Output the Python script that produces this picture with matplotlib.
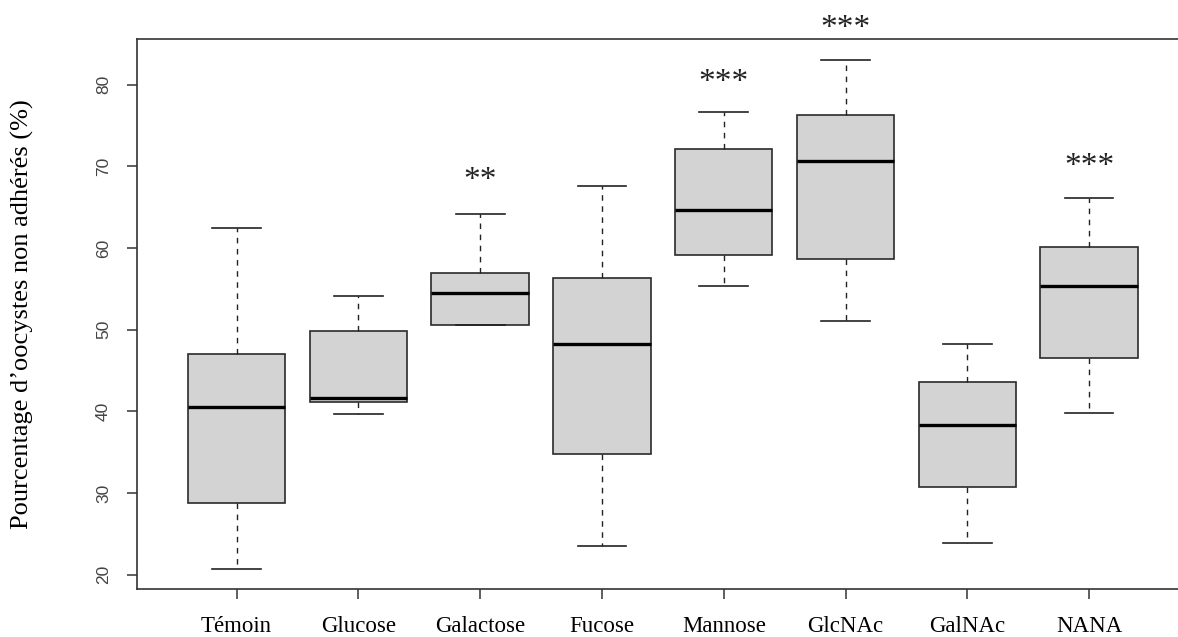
import matplotlib
matplotlib.use("Agg")
import matplotlib.pyplot as plt

categories = ["Témoin", "Glucose", "Galactose", "Fucose", "Mannose", "GlcNAc", "GalNAc", "NANA"]
whisker_low = [20.7, 39.7, 50.6, 23.5, 55.4, 51.1, 23.9, 39.8]
q1 = [28.8, 41.1, 50.6, 34.8, 59.2, 58.7, 30.8, 46.6]
median = [40.5, 41.7, 54.5, 48.3, 64.6, 70.6, 38.3, 55.3]
q3 = [47.0, 49.9, 56.9, 56.3, 72.1, 76.3, 43.6, 60.1]
whisker_high = [62.4, 54.1, 64.2, 67.6, 76.6, 83.0, 48.2, 66.1]
signif = ["", "", "**", "", "***", "***", "", "***"]
signif_y = [None, None, 68.9, None, 80.9, 87.6, None, 70.7]

W, H = 1178, 637
fig = plt.figure(figsize=(W / 100, H / 100), dpi=100)
left, right, top, bottom = 136.7, 1189.0, 39.0, 589.0
ax = fig.add_axes([left / W, 1 - bottom / H, (right - left) / W, (bottom - top) / H])

stats = []
for i, c in enumerate(categories):
    stats.append(dict(label=c, whislo=whisker_low[i], q1=q1[i], med=median[i],
                      q3=q3[i], whishi=whisker_high[i], fliers=[]))

pos = list(range(1, len(categories) + 1))
ax.bxp(stats, positions=pos, widths=0.8, patch_artist=True, showfliers=False,
       boxprops=dict(facecolor="#d3d3d3", edgecolor="#2a2a2a", linewidth=1.2),
       medianprops=dict(color="black", linewidth=2.4, solid_capstyle="butt"),
       whiskerprops=dict(color="#222222", linewidth=1.0, linestyle=(0, (4, 4))),
       capprops=dict(color="#222222", linewidth=1.2), capwidths=0.4)

ax.set_xlim(0.18, 8.82)
ax.set_ylim(18.27, 85.59)

for s in ax.spines.values():
    s.set_color("#333333")
    s.set_linewidth(1.2)

ax.set_xticks(pos)
ax.set_xticklabels(categories, fontfamily="Liberation Serif", fontsize=16.5, color="black")
ax.set_yticks([20, 30, 40, 50, 60, 70, 80])
ax.set_yticklabels(["20", "30", "40", "50", "60", "70", "80"], rotation=90, va="center",
                   fontfamily="Liberation Sans", fontsize=12.5, color="#444444")
ax.tick_params(axis="x", length=7.5, width=1.1, color="#333333", pad=12)
ax.tick_params(axis="y", length=7.5, width=1.1, color="#333333", pad=11)

ax.set_ylabel("Pourcentage d\u2019oocystes non adhérés (%)", fontfamily="Liberation Serif",
              fontsize=19, color="black")
ax.yaxis.set_label_coords(-0.0976, 0.5)

for i, s in enumerate(signif):
    if s:
        ax.text(pos[i], signif_y[i] - 0.7, s, ha="center", va="center",
                fontfamily="Liberation Serif", fontsize=24, color="#222222", clip_on=False)

fig.savefig("out.png", dpi=100)
